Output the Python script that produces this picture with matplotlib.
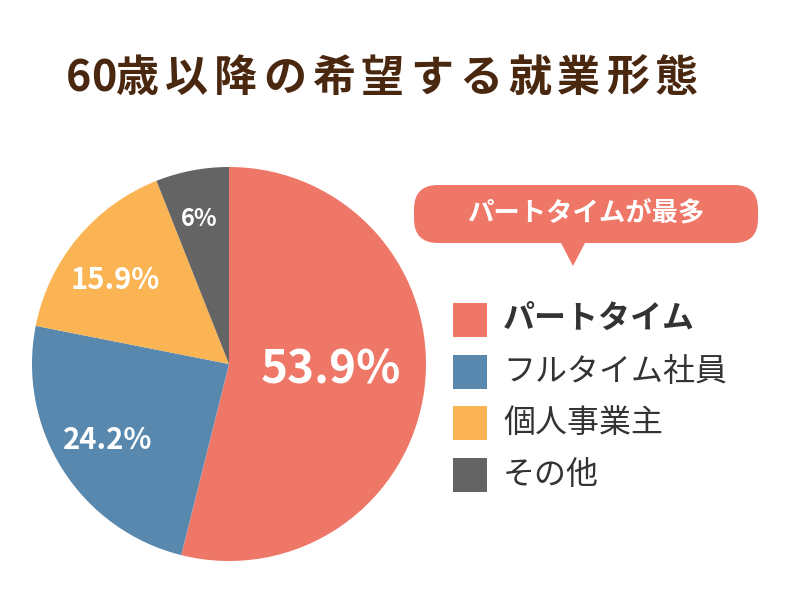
import matplotlib.pyplot as plt
from matplotlib.patches import FancyBboxPatch, Polygon, Rectangle

plt.rcParams['font.family'] = 'Noto Sans CJK JP'

title = '60歳以降の希望する就業形態'
labels = ['パートタイム', 'フルタイム社員', '個人事業主', 'その他']
values = [53.9, 24.2, 15.9, 6.0]
pct_text = ['53.9%', '24.2%', '15.9%', '6%']
colors = ['#EF7767', '#5888AE', '#FBB454', '#646464']
callout = 'パートタイムが最多'

fig = plt.figure(figsize=(7.96, 5.97), dpi=100)
ax = fig.add_axes([0, 0, 1, 1])

# y axis is inverted, so counterclock=True draws clockwise on screen
ax.pie(values, colors=colors, startangle=-90, counterclock=True,
       center=(229, 364), radius=197, frame=True,
       wedgeprops=dict(linewidth=0))
ax.set_xlim(0, 796)
ax.set_ylim(597, 0)
ax.set_aspect('equal')
ax.axis('off')

# title with a bit of letter spacing
tx = 66
for ch in title:
    t = ax.text(tx, 78, ch, ha='left', va='center', fontsize=31,
                fontweight='bold', color='#4A2810')
    tx += 25 if ch.isdigit() else 49

pos = [(331, 370), (108, 440), (115, 280), (199, 219)]
sizes = [33, 21, 21, 17]
for (x, y), t, s in zip(pos, pct_text, sizes):
    ax.text(x, y, t, ha='center', va='center', fontsize=s,
            fontweight='bold', color='white')

ax.add_patch(FancyBboxPatch((414, 185), 344, 58,
                            boxstyle='round,pad=0,rounding_size=24',
                            fc=colors[0], ec='none'))
ax.add_patch(Polygon([(560, 241), (586, 241), (573, 266)], fc=colors[0], ec='none'))
ax.text(586, 213, callout, ha='center', va='center', fontsize=19,
        fontweight='bold', color='white')

ys = [320, 372, 423, 475]
for i, (lab, c, y) in enumerate(zip(labels, colors, ys)):
    ax.add_patch(Rectangle((453, y - 17), 34, 34, fc=c, ec='none'))
    ax.text(503, y, lab, ha='left', va='center', fontsize=23,
            fontweight='bold' if i == 0 else 'normal', color='#333333')

fig.savefig('out.png', dpi=100)
